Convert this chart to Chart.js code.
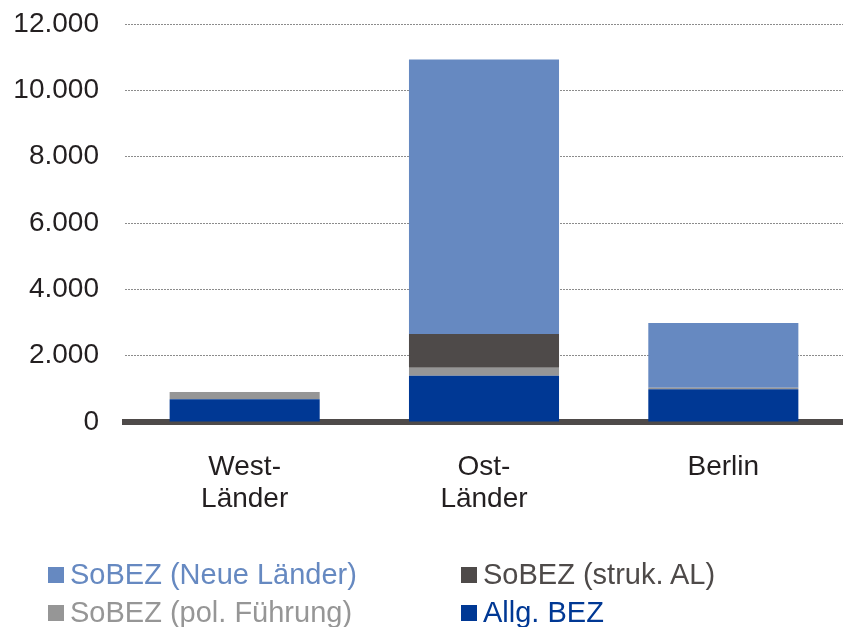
<!DOCTYPE html>
<html>
<head>
<meta charset="utf-8">
<script src="https://cdn.jsdelivr.net/npm/chart.js@4"></script>
<style>
  html, body { margin: 0; padding: 0; background: #fff; }
  #wrap { position: relative; width: 843px; height: 627px; }
  #legende {
    position: absolute; left: 48px; top: 558px;
    display: grid; grid-template-columns: 413px 300px; grid-template-rows: 38px 38px;
    font-family: "Liberation Sans", Arial, sans-serif; font-size: 29px; line-height: 33px;
  }
  .item { display: flex; align-items: center; white-space: nowrap; height: 33px; }
  .carre { width: 16px; height: 16px; margin-right: 6px; }
</style>
</head>
<body>
<div id="wrap">
  <canvas id="graphs" width="843" height="627"></canvas>
  <div id="legende"></div>
</div>
<script>
// categories (axe x)
var categories = [['West-', 'Länder'], ['Ost-', 'Länder'], 'Berlin'];

// valeurs par série (ordre d'empilement, du bas vers le haut)
var allgBEZ = [684, 1396, 986];
var sobezPol = [220, 240, 50];
var sobezStruk = [0, 1016, 0];
var sobezNeue = [0, 8281, 1950];

var seriesNoms = ['Allg. BEZ', 'SoBEZ (pol. Führung)', 'SoBEZ (struk. AL)', 'SoBEZ (Neue Länder)'];
var couleurs = ['#003894', '#969696', '#4e4a49', '#6689c1'];

var yTicks = [0, 2000, 4000, 6000, 8000, 10000, 12000];

function formatDE(v) {
    return String(v).replace(/\B(?=(\d{3})+(?!\d))/g, '.');
}

document.addEventListener('DOMContentLoaded', function() {
var police = 'Liberation Sans, Arial, sans-serif';
var valeurs = [allgBEZ, sobezPol, sobezStruk, sobezNeue];

var datasets = valeurs.map(function(data, i) {
    return {
        label: seriesNoms[i],
        data: data,
        backgroundColor: couleurs[i],
        borderWidth: 0,
        barPercentage: 0.627,
        categoryPercentage: 1
    };
});

var ctx = document.getElementById('graphs').getContext('2d');
var currentChart = new Chart(ctx, {
    type: 'bar',
    data: {
        labels: categories,
        datasets: datasets
    },
    options: {
        responsive: false,
        animation: false,
        layout: {
            autoPadding: false,
            padding: { left: 12, right: 0, top: 24, bottom: 0 }
        },
        plugins: {
            legend: { display: false },
            tooltip: { enabled: false }
        },
        scales: {
            x: {
                stacked: true,
                z: 1,
                afterFit: function(axis) { axis.height = 205; },
                grid: { display: false, drawTicks: false },
                border: { display: true, width: 6, color: '#4e4a49' },
                ticks: {
                    color: '#231f20',
                    padding: 29,
                    font: { family: police, size: 28, lineHeight: 1.15 }
                }
            },
            y: {
                stacked: true,
                min: yTicks[0],
                max: yTicks[yTicks.length - 1],
                afterBuildTicks: function(axis) {
                    axis.ticks = yTicks.map(function(v) { return { value: v }; });
                },
                afterFit: function(axis) { axis.width = 113; },
                grid: {
                    drawTicks: true,
                    tickLength: 26,
                    tickColor: 'rgba(0,0,0,0)',
                    lineWidth: 1,
                    color: function(c) { return c.tick && c.tick.value === 0 ? 'rgba(0,0,0,0)' : '#8c8c8c'; }
                },
                border: { display: false, dash: [2, 1] },
                ticks: {
                    color: '#231f20',
                    padding: 0,
                    font: { family: police, size: 28 },
                    callback: function(v) { return formatDE(v); }
                }
            }
        }
    }
});

// légende en deux colonnes, ordre inverse de l'empilement
var legende = document.getElementById('legende');
datasets.slice().reverse().forEach(function(ds) {
    var item = document.createElement('div');
    item.className = 'item';
    item.style.color = ds.backgroundColor;
    var carre = document.createElement('span');
    carre.className = 'carre';
    carre.style.background = ds.backgroundColor;
    item.appendChild(carre);
    item.appendChild(document.createTextNode(ds.label));
    legende.appendChild(item);
});
});
</script>
</body>
</html>
